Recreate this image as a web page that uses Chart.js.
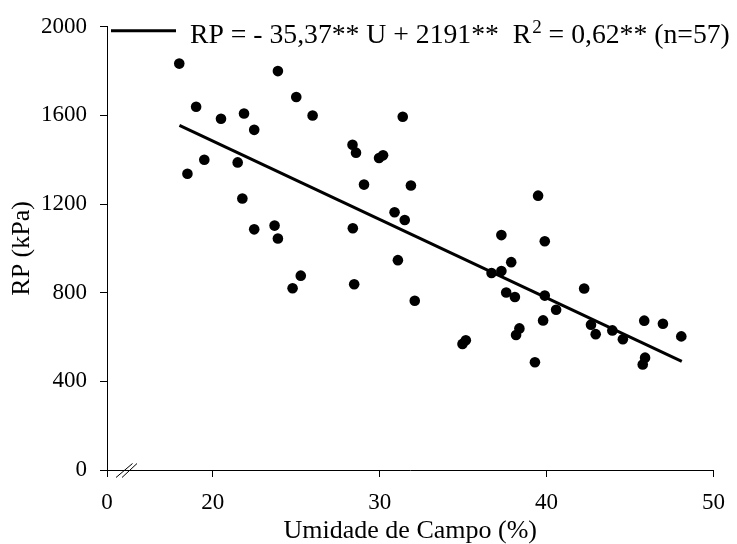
<!DOCTYPE html>
<html>
<head>
<meta charset="utf-8">
<script src="https://cdn.jsdelivr.net/npm/chart.js@4.4.0/dist/chart.umd.min.js"></script>
<style>
  body { margin: 0; background: #fff; }
</style>
</head>
<body>
<canvas id="grafico" width="737" height="544"></canvas>
<script>
// Umidade de campo (%) x resistencia a penetracao (kPa)
const umidade = [17.99, 23.9, 19.0, 25.0, 25.98, 20.49, 21.87, 22.48, 31.38, 28.37,
  28.58, 29.96, 30.2, 19.49, 21.49, 18.48, 29.06, 31.87, 21.77, 30.89,
  31.5, 28.39, 23.7, 22.48, 23.9, 31.09, 25.27, 24.78, 28.47, 32.1,
  39.49, 37.29, 39.89, 37.88, 36.7, 37.29, 42.25, 37.58, 38.1, 39.89,
  40.57, 39.79, 45.85, 46.97, 48.07, 38.37, 38.17, 42.66, 42.94, 43.94,
  44.57, 35.16, 34.96, 39.3, 45.9, 45.76];
const rp = [1834, 1800, 1639, 1683, 1600, 1585, 1609, 1535, 1594, 1468,
  1432, 1408, 1420, 1400, 1388, 1337, 1288, 1284, 1225, 1163,
  1128, 1091, 1103, 1086, 1045, 947, 877, 820, 838, 764,
  1238, 1060, 1032, 938, 889, 898, 819, 801, 781, 787,
  723, 675, 674, 660, 603, 639, 609, 656, 613, 630,
  590, 585, 569, 486, 507, 476];

// reta ajustada (extremos)
const retaX = [18.0, 48.1];
const retaY = [1555, 490];

// eixo x quebrado: comeca em xInicio mas mostra "0"
const xInicio = 13.66;
const xInicioLabel = '0';
const xTicks = [20, 30, 40, 50];
const yTicks = [0, 400, 800, 1200, 1600, 2000];

const legendaTexto = ['RP = - 35,37** U + 2191**  R', '2', ' = 0,62** (n=57)'];

const fonte = '"Liberation Serif", "Times New Roman", serif';

const legendaPlugin = {
  id: 'legenda',
  afterDraw(chart) {
    const { ctx, chartArea } = chart;
    ctx.save();
    ctx.strokeStyle = '#000';
    ctx.lineWidth = 3;
    ctx.beginPath();
    ctx.moveTo(chartArea.left + 4, chartArea.top + 4);
    ctx.lineTo(chartArea.left + 69, chartArea.top + 4);
    ctx.stroke();

    ctx.fillStyle = '#000';
    ctx.textBaseline = 'alphabetic';
    let x = chartArea.left + 83;
    const y = chartArea.top + 16;
    ctx.font = '27.7px ' + fonte;
    ctx.fillText(legendaTexto[0], x, y);
    x += ctx.measureText(legendaTexto[0]).width + 1;
    ctx.font = '19px ' + fonte;
    ctx.fillText(legendaTexto[1], x, y - 10);
    x += ctx.measureText(legendaTexto[1]).width;
    ctx.font = '27.7px ' + fonte;
    ctx.fillText(legendaTexto[2], x, y);
    ctx.restore();
  }
};

// marcas de quebra do eixo x
const quebraPlugin = {
  id: 'quebra',
  afterDraw(chart) {
    const { ctx, chartArea } = chart;
    const b = chartArea.bottom, l = chartArea.left;
    ctx.save();
    ctx.strokeStyle = '#000';
    ctx.lineWidth = 1;
    ctx.beginPath();
    ctx.moveTo(l + 9, b + 7.5);
    ctx.lineTo(l + 25.5, b - 6.5);
    ctx.moveTo(l + 15, b + 7.5);
    ctx.lineTo(l + 30, b - 6.5);
    ctx.stroke();
    ctx.restore();
  }
};

const pontos = umidade.map((u, i) => ({ x: u, y: rp[i] }));
const reta = retaX.map((u, i) => ({ x: u, y: retaY[i] }));

new Chart(document.getElementById('grafico').getContext('2d'), {
  type: 'scatter',
  data: {
    datasets: [{
      label: 'RP',
      data: pontos,
      backgroundColor: '#000',
      borderWidth: 0,
      pointRadius: 5.3,
      pointHoverRadius: 5.3
    }, {
      type: 'line',
      label: 'Reta',
      data: reta,
      borderColor: '#000',
      borderWidth: 3,
      pointRadius: 0,
      fill: false,
      tension: 0
    }]
  },
  options: {
    responsive: false,
    animation: false,
    layout: { padding: { top: 26.7, right: 15, left: 0, bottom: 0 } },
    plugins: {
      legend: { display: false },
      tooltip: { enabled: false }
    },
    scales: {
      x: {
        type: 'linear',
        min: xInicio,
        max: 50,
        afterBuildTicks: (s) => { s.ticks = [xInicio].concat(xTicks).map(v => ({ value: v })); },
        afterFit: (s) => { s.height = 74; },
        ticks: {
          color: '#000',
          font: { family: fonte, size: 23 },
          padding: 12,
          maxRotation: 0,
          callback: (v) => v === xInicio ? xInicioLabel : String(v)
        },
        grid: { drawOnChartArea: false, drawTicks: true, tickLength: 7, color: '#000' },
        border: { display: true, color: '#000', width: 1 },
        title: {
          display: true,
          text: 'Umidade de Campo (%)',
          color: '#000',
          font: { family: fonte, size: 26, lineHeight: 1 },
          padding: { top: 0, bottom: 0 }
        }
      },
      y: {
        min: 0,
        max: 2000,
        afterBuildTicks: (s) => { s.ticks = yTicks.map(v => ({ value: v })); },
        afterFit: (s) => { s.width = 107; },
        ticks: {
          color: '#000',
          font: { family: fonte, size: 23 },
          padding: 13,
          callback: (v) => String(v)
        },
        grid: { drawOnChartArea: false, drawTicks: true, tickLength: 7, color: '#000' },
        border: { display: true, color: '#000', width: 1 },
        title: {
          display: true,
          text: 'RP (kPa)',
          color: '#000',
          font: { family: fonte, size: 26 },
          padding: { top: 7, bottom: 0 }
        }
      }
    }
  },
  plugins: [legendaPlugin, quebraPlugin]
});
</script>
</body>
</html>
